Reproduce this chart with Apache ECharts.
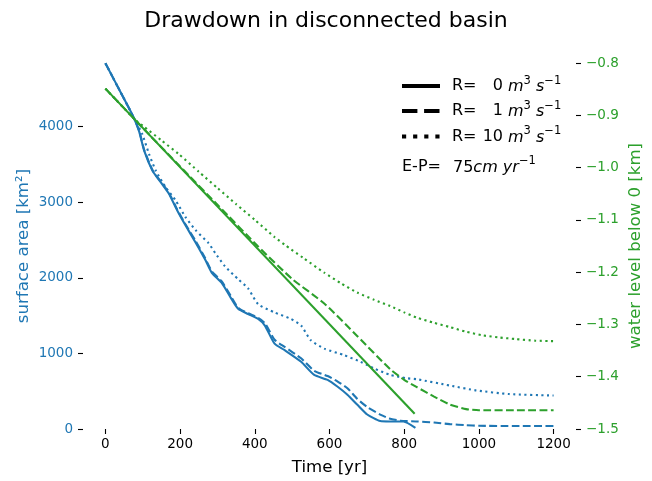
<!DOCTYPE html>
<html>
<head>
<meta charset="utf-8">
<script src="https://cdn.jsdelivr.net/npm/echarts@6/dist/echarts.min.js"></script>
<style>
html,body{margin:0;padding:0;background:#fff;}
#chart{width:652px;height:481px;}
</style>
</head>
<body>
<div id="chart"></div>
<script>
// ---- data ----
const xTicks = [0, 200, 400, 600, 800, 1000, 1200];
const areaTicks = [0, 1000, 2000, 3000, 4000];

// surface area [km2], R = 0
const tArea0 = [0, 40, 72, 90, 104, 126, 148, 170, 192, 214, 241, 267, 285, 311, 338, 356, 382, 409, 427, 453, 480, 524, 559, 595, 621, 648, 674, 701, 736, 760, 798, 830];
const area0  = [4837, 4460, 4157, 3939, 3677, 3416, 3264, 3111, 2893, 2697, 2470, 2240, 2065, 1935, 1716, 1586, 1520, 1455, 1368, 1128, 1042, 889, 715, 650, 562, 453, 323, 192, 105, 100, 100, 15];
// surface area, R = 1
const tArea1 = [0, 40, 72, 90, 104, 126, 148, 170, 192, 214, 241, 267, 285, 311, 338, 356, 382, 409, 427, 453, 480, 524, 559, 595, 621, 648, 674, 701, 736, 760, 790, 834, 880, 922, 966, 1000, 1100, 1200];
const area1  = [4837, 4460, 4157, 3950, 3690, 3425, 3275, 3125, 2905, 2710, 2490, 2260, 2085, 1955, 1740, 1600, 1530, 1470, 1400, 1180, 1085, 935, 770, 700, 630, 540, 400, 290, 190, 140, 110, 100, 85, 65, 50, 42, 40, 40];
// surface area, R = 10
const tArea10 = [0, 40, 72, 99, 117, 135, 161, 188, 214, 241, 276, 294, 320, 356, 382, 409, 453, 497, 524, 550, 586, 639, 683, 719, 763, 807, 834, 922, 993, 1081, 1188, 1200];
const area10  = [4837, 4460, 4157, 3895, 3634, 3416, 3199, 3024, 2806, 2632, 2458, 2327, 2153, 1978, 1860, 1650, 1542, 1455, 1368, 1173, 1063, 976, 889, 801, 715, 671, 658, 575, 510, 462, 444, 443];

// water level below 0 [km]
const tLevel0 = [0, 828];
const level0  = [-0.849, -1.471];
const tLevel1 = [0, 100, 200, 300, 409, 500, 586, 674, 763, 800, 834, 880, 922, 966, 1000, 1100, 1200];
const level1  = [-0.849, -0.924, -0.998, -1.071, -1.151, -1.213, -1.260, -1.322, -1.386, -1.406, -1.420, -1.438, -1.453, -1.462, -1.464, -1.464, -1.464];
const tLevel10 = [0, 80, 100, 150, 196, 250, 300, 350, 400, 453, 480, 530, 586, 630, 674, 720, 763, 800, 834, 880, 922, 966, 1011, 1055, 1099, 1150, 1200];
const level10  = [-0.849, -0.909, -0.920, -0.948, -0.974, -1.008, -1.039, -1.070, -1.100, -1.133, -1.1475, -1.173, -1.201, -1.221, -1.239, -1.253, -1.265, -1.277, -1.287, -1.297, -1.305, -1.314, -1.321, -1.325, -1.328, -1.331, -1.332];

const zip = (a, b) => a.map((v, i) => [v, b[i]]);

const BLUE = '#1f77b4', GREEN = '#2ca02c';
const FONT = 'DejaVu Sans';
const LW = 2.1;
const DASH = [7.8, 3.4];
const DOT = [2.1, 3.5];
const TICKFS = 13.5;

function mk(name, t, v, color, type, axis) {
  return {
    name, type: 'line', yAxisIndex: axis, data: zip(t, v),
    showSymbol: false, symbol: 'none', smooth: 0.2, clip: false,
    lineStyle: { color, width: LW, type, cap: 'butt' },
    z: axis === 1 ? 3 : 2, animation: false
  };
}

const chart = echarts.init(document.getElementById('chart'), null, { renderer: 'canvas' });
const minus = v => (v < 0 ? '\u2212' : '') + Math.abs(v).toFixed(1);
const plain = v => String(Math.round(v));

const richStyles = {
  i: { fontFamily: FONT, fontSize: 16, fontStyle: 'italic', color: '#000', verticalAlign: 'bottom', lineHeight: 20 },
  n: { fontFamily: FONT, fontSize: 16, color: '#000', verticalAlign: 'bottom', lineHeight: 20 },
  s: { fontFamily: FONT, fontSize: 11.5, color: '#000', verticalAlign: 'top', lineHeight: 14 }
};

const legendRows = [
  { y: 86, num: '0', dash: null },
  { y: 111, num: '1', dash: [15.4, 6.7] },
  { y: 136.5, num: '10', dash: [4.17, 6.95] }
];
const graphics = [];
legendRows.forEach(r => {
  graphics.push({
    type: 'line', shape: { x1: 402, y1: r.y, x2: 440, y2: r.y },
    style: { stroke: '#000', lineWidth: 4.17, lineDash: r.dash || null, lineCap: 'butt' }
  });
  graphics.push({ type: 'text', x: 452, y: r.y, style: { text: 'R=', font: '16px "DejaVu Sans"', fill: '#000', verticalAlign: 'middle' } });
  graphics.push({ type: 'text', x: 503, y: r.y, style: { text: r.num, font: '16px "DejaVu Sans"', fill: '#000', align: 'right', verticalAlign: 'middle' } });
  graphics.push({ type: 'text', x: 508, y: r.y - 1, style: { text: '{i|m}{s|3}{n| }{i|s}{s|\u22121}', fill: '#000', verticalAlign: 'middle', rich: richStyles } });
});
graphics.push({ type: 'text', x: 402, y: 166.5, style: { text: 'E-P=', font: '16px "DejaVu Sans"', fill: '#000', verticalAlign: 'middle' } });
graphics.push({ type: 'text', x: 453, y: 165.5, style: { text: '{n|75}{i|cm yr}{s|\u22121}', fill: '#000', verticalAlign: 'middle', rich: richStyles } });

const option = {
  animation: false,
  backgroundColor: '#fff',
  textStyle: { fontFamily: FONT },
  title: {
    text: 'Drawdown in disconnected basin', left: 'center', top: 5,
    textStyle: { fontFamily: FONT, fontSize: 22, fontWeight: 'normal', color: '#000' }
  },
  grid: { left: 83, right: 71, top: 63, bottom: 48, containLabel: false },
  xAxis: {
    type: 'value', min: -60, max: 1260,
    name: 'Time [yr]', nameLocation: 'middle', nameGap: 30, nameMoveOverlap: false,
    nameTextStyle: { fontFamily: FONT, fontSize: 16.6, color: '#000' },
    axisLine: { show: false, onZero: false },
    axisTick: { show: true, length: 5, lineStyle: { color: '#000', width: 1.1 }, customValues: xTicks },
    axisLabel: { color: '#000', fontFamily: FONT, fontSize: TICKFS, margin: 8, customValues: xTicks, formatter: plain },
    splitLine: { show: false }
  },
  yAxis: [
    {
      type: 'value', min: 0, max: 4840, position: 'left',
      name: 'surface area [km\u00b2]', nameLocation: 'middle', nameGap: 51, nameMoveOverlap: false,
      nameTextStyle: { fontFamily: FONT, fontSize: 16.6, color: BLUE },
      axisLine: { show: false, onZero: false },
      axisTick: { show: true, length: 5, lineStyle: { color: '#000', width: 1.1 }, customValues: areaTicks },
      axisLabel: { color: BLUE, fontFamily: FONT, fontSize: TICKFS, margin: 10, customValues: areaTicks, formatter: plain },
      splitLine: { show: false }
    },
    {
      type: 'value', min: -1.5, max: -0.8, interval: 0.1, position: 'right',
      name: 'water level below 0 [km]', nameLocation: 'middle', nameGap: 51, nameRotate: 90, nameMoveOverlap: false,
      nameTextStyle: { fontFamily: FONT, fontSize: 16.6, color: GREEN },
      axisLine: { show: false, onZero: false },
      axisTick: { show: true, length: 5, lineStyle: { color: '#000', width: 1.1 } },
      axisLabel: { color: GREEN, fontFamily: FONT, fontSize: TICKFS, margin: 10, formatter: minus },
      splitLine: { show: false }
    }
  ],
  series: [
    mk('area R=0', tArea0, area0, BLUE, 'solid', 0),
    mk('area R=1', tArea1, area1, BLUE, DASH, 0),
    mk('area R=10', tArea10, area10, BLUE, DOT, 0),
    mk('level R=0', tLevel0, level0, GREEN, 'solid', 1),
    mk('level R=1', tLevel1, level1, GREEN, DASH, 1),
    mk('level R=10', tLevel10, level10, GREEN, DOT, 1)
  ],
  graphic: graphics
};
chart.setOption(option);
</script>
</body>
</html>
